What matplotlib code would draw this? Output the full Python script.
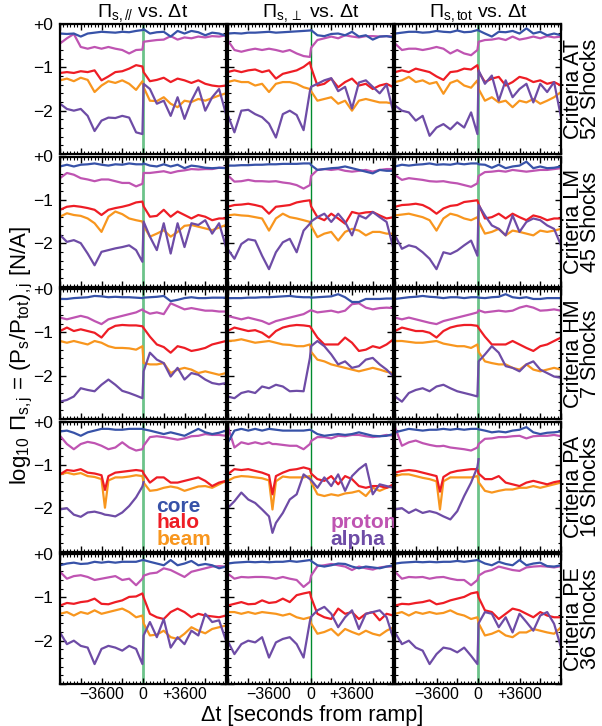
import numpy as np
import matplotlib.pyplot as plt
from matplotlib.ticker import MultipleLocator, FuncFormatter

plt.rcParams['font.family'] = ['Liberation Sans', 'DejaVu Sans']
plt.rcParams['mathtext.fontset'] = 'custom'
plt.rcParams['mathtext.rm'] = 'Liberation Sans'
plt.rcParams['mathtext.it'] = 'Liberation Sans'
plt.rcParams['mathtext.default'] = 'regular'

nan = np.nan

# seconds from ramp
t = [-7200, -6600, -6000, -5400, -4800, -4200, -3600, -3000, -2400, -1800, -1200, -600, -50,
     50, 600, 1200, 1800, 2400, 3000, 3600, 4200, 4800, 5400, 6000, 6600, 7200]
t_pa = [-7200, -6600, -6000, -5400, -4800, -4200, -3600, -3300, -3000, -2400, -1800, -1200, -600, -50,
        50, 600, 1200, 1800, 2400, 3000, 3600, 4200, 4800, 5400, 6000, 6600, 7200]

# each list: [parallel, perpendicular, total]
AT_core = [
    [-0.22,-0.23,-0.22,-0.29,-0.22,-0.20,-0.18,-0.19,-0.20,-0.18,-0.19,-0.16,-0.14,-0.12,-0.22,-0.19,-0.18,-0.29,-0.16,-0.22,-0.16,-0.19,-0.26,-0.20,-0.22,-0.27],
    [-0.22,-0.21,-0.22,-0.20,-0.20,-0.19,-0.18,-0.20,-0.19,-0.18,-0.17,-0.16,-0.15,-0.14,-0.26,-0.28,-0.23,-0.22,-0.26,-0.18,-0.29,-0.26,-0.36,-0.29,-0.28,-0.31],
    [-0.22,-0.20,-0.18,-0.18,-0.20,-0.19,-0.16,-0.18,-0.19,-0.15,-0.19,-0.18,-0.14,-0.15,-0.22,-0.29,-0.18,-0.19,-0.16,-0.22,-0.10,-0.22,-0.18,-0.26,-0.22,-0.26]]
AT_proton = [
    [-0.45,-0.33,-0.23,-0.53,-0.57,-0.53,-0.57,-0.53,-0.57,-0.60,-0.68,-0.60,-0.59,-0.41,-0.39,-0.37,-0.36,-0.28,-0.36,-0.31,-0.33,-0.29,-0.31,-0.28,-0.29,-0.26],
    [-0.37,-0.60,-0.64,-0.60,-0.57,-0.60,-0.57,-0.60,-0.64,-0.60,-0.68,-0.74,-0.76,-0.55,-0.37,-0.33,-0.29,-0.33,-0.26,-0.29,-0.31,-0.28,-0.28,-0.29,-0.28,-0.29],
    [-0.45,-0.60,-0.57,-0.57,-0.60,-0.57,-0.53,-0.57,-0.68,-0.60,-0.68,-0.72,-0.60,-0.41,-0.37,-0.36,-0.33,-0.37,-0.29,-0.36,-0.33,-0.29,-0.33,-0.28,-0.31,-0.29]]
AT_halo = [
    [-1.13,-1.11,-1.13,-1.09,-1.11,-1.07,-1.30,-1.21,-1.11,-1.09,-1.03,-0.95,-0.98,-1.11,-1.32,-1.29,-1.24,-1.34,-1.26,-1.30,-1.36,-1.30,-1.38,-1.42,-1.44,-1.42],
    [-1.11,-1.07,-1.11,-1.07,-1.05,-1.11,-1.07,-1.26,-1.15,-1.11,-1.07,-0.99,-0.88,-1.00,-1.42,-1.38,-1.26,-1.46,-1.34,-1.26,-1.42,-1.38,-1.50,-1.42,-1.38,-1.46],
    [-1.11,-1.07,-1.11,-1.03,-1.07,-1.11,-1.21,-1.29,-1.11,-1.09,-1.03,-1.05,-0.95,-1.10,-1.34,-1.26,-1.22,-1.42,-1.34,-1.22,-1.26,-1.34,-1.30,-1.38,-1.34,-1.42]]
AT_beam = [
    [-1.30,-1.26,-1.32,-1.24,-1.29,-1.57,-1.42,-1.32,-1.36,-1.30,-1.38,-1.52,-1.32,-1.46,-1.77,-1.78,-1.69,-1.84,-1.92,-1.77,-1.80,-1.73,-1.77,-1.71,-1.65,-1.60],
    [-1.34,-1.30,-1.34,-1.34,-1.42,-1.38,-1.57,-1.38,-1.34,-1.34,-1.38,-1.46,-1.50,-1.55,-1.77,-1.73,-1.69,-1.84,-1.77,-2.00,-1.77,-1.73,-1.77,-1.81,-1.81,-1.84],
    [-1.34,-1.30,-1.22,-1.34,-1.30,-1.38,-1.34,-1.61,-1.36,-1.30,-1.42,-1.47,-1.30,-1.50,-1.77,-1.69,-1.81,-1.77,-1.92,-1.77,-1.81,-1.73,-1.84,-1.77,-1.69,-1.57]]
AT_alpha = [
    [-1.84,-1.96,-2.00,-1.96,-2.12,-2.47,-2.23,-2.16,-2.17,-2.12,-2.16,-2.50,-2.54,-1.38,-1.50,-1.84,-1.77,-2.12,-1.69,-2.19,-1.77,-1.46,-2.00,-1.69,-1.50,-2.08],
    [-2.08,-2.50,-2.00,-1.98,-2.08,-2.15,-2.30,-2.62,-2.08,-2.00,-2.10,-2.45,-1.55,-1.45,-1.38,-1.30,-1.25,-1.55,-1.45,-1.95,-1.35,-1.30,-1.45,-1.60,-1.40,-2.05],
    [-1.88,-2.00,-2.04,-2.23,-2.12,-2.58,-2.39,-2.31,-2.43,-2.27,-2.39,-2.04,-2.54,-1.07,-1.38,-1.19,-1.77,-1.30,-1.69,-1.50,-1.38,-1.81,-1.38,-1.57,-1.34,-2.15]]

LM_core = [
    [-0.23,-0.19,-0.23,-0.19,-0.18,-0.16,-0.19,-0.21,-0.18,-0.19,-0.16,-0.18,-0.18,-0.16,-0.21,-0.23,-0.18,-0.23,-0.19,-0.27,-0.21,-0.23,-0.26,-0.27,-0.26,-0.27],
    [-0.21,-0.21,-0.20,-0.20,-0.19,-0.19,-0.18,-0.18,-0.17,-0.17,-0.17,-0.16,-0.16,-0.20,-0.31,-0.29,-0.27,-0.26,-0.23,-0.27,-0.31,-0.35,-0.39,-0.31,-0.33,-0.33],
    [-0.23,-0.19,-0.21,-0.19,-0.18,-0.16,-0.19,-0.18,-0.19,-0.16,-0.18,-0.16,-0.16,-0.18,-0.19,-0.26,-0.19,-0.27,-0.23,-0.21,-0.12,-0.27,-0.23,-0.27,-0.26,-0.23]]
LM_proton = [
    [-0.50,-0.38,-0.42,-0.50,-0.53,-0.57,-0.53,-0.53,-0.57,-0.61,-0.61,-0.69,-0.63,-0.38,-0.38,-0.36,-0.34,-0.38,-0.34,-0.32,-0.29,-0.30,-0.29,-0.29,-0.26,-0.26],
    [-0.43,-0.58,-0.57,-0.54,-0.57,-0.57,-0.58,-0.57,-0.60,-0.62,-0.66,-0.74,-0.66,-0.45,-0.31,-0.29,-0.31,-0.29,-0.33,-0.35,-0.33,-0.31,-0.35,-0.31,-0.29,-0.29],
    [-0.43,-0.54,-0.50,-0.52,-0.54,-0.57,-0.58,-0.57,-0.60,-0.62,-0.66,-0.70,-0.62,-0.45,-0.36,-0.35,-0.33,-0.35,-0.31,-0.33,-0.35,-0.33,-0.31,-0.31,-0.29,-0.27]]
LM_halo = [
    [-1.23,-1.16,-1.14,-1.16,-1.19,-1.23,-1.35,-1.23,-1.19,-1.16,-1.12,-1.06,-1.04,-1.15,-1.39,-1.37,-1.23,-1.39,-1.27,-1.35,-1.43,-1.35,-1.39,-1.47,-1.43,-1.43],
    [-1.16,-1.12,-1.11,-1.09,-1.12,-1.16,-1.32,-1.16,-1.14,-1.12,-1.06,-1.03,-1.01,-1.15,-1.40,-1.47,-1.32,-1.43,-1.55,-1.28,-1.32,-1.29,-1.28,-1.36,-1.43,-1.40],
    [-1.16,-1.12,-1.11,-1.09,-1.12,-1.20,-1.32,-1.20,-1.14,-1.12,-1.05,-1.03,-1.01,-1.10,-1.43,-1.40,-1.32,-1.43,-1.32,-1.40,-1.47,-1.36,-1.40,-1.47,-1.43,-1.43]]
LM_beam = [
    [-1.39,-1.31,-1.35,-1.37,-1.43,-1.54,-1.74,-1.39,-1.27,-1.33,-1.43,-1.47,-1.50,-1.60,-1.85,-1.78,-1.70,-1.85,-1.74,-1.60,-1.58,-1.62,-1.66,-1.70,-1.64,-1.58],
    [-1.36,-1.34,-1.36,-1.37,-1.40,-1.43,-1.71,-1.43,-1.32,-1.40,-1.43,-1.47,-1.51,-1.60,-1.86,-1.78,-1.74,-1.94,-1.74,-1.67,-1.71,-1.82,-1.74,-1.74,-1.78,-1.78],
    [-1.36,-1.34,-1.32,-1.36,-1.40,-1.47,-1.71,-1.43,-1.32,-1.36,-1.43,-1.47,-1.40,-1.50,-1.78,-1.74,-1.67,-1.82,-1.71,-1.74,-1.78,-1.82,-1.71,-1.74,-1.71,-1.67]]
LM_alpha = [
    [-1.81,-1.97,-1.93,-2.00,-2.24,-2.51,-2.20,-2.16,-2.12,-2.09,-2.05,-2.16,-2.43,-1.50,-1.85,-2.16,-1.54,-2.24,-1.54,-2.09,-1.54,-1.58,-1.47,-1.78,-1.54,-2.09],
    [-2.13,-2.36,-2.02,-1.91,-1.94,-2.29,-2.60,-2.21,-1.98,-1.90,-2.21,-1.71,-1.55,-1.50,-1.40,-1.32,-1.51,-1.32,-1.51,-1.82,-1.36,-1.43,-1.28,-1.40,-1.51,-2.13],
    [-1.82,-2.13,-2.05,-2.09,-2.21,-2.36,-2.60,-2.21,-2.25,-2.17,-2.05,-1.94,-2.29,-1.12,-1.36,-1.59,-1.67,-1.82,-1.36,-1.74,-1.51,-1.43,-1.47,-1.59,-1.67,-2.05]]

HM_core = [
    [-0.23,-0.23,-0.21,-0.20,-0.19,-0.16,-0.17,-0.19,-0.18,-0.19,-0.19,-0.20,-0.21,-0.20,-0.19,-0.18,-0.16,-0.28,-0.25,-0.21,-0.19,-0.21,-0.21,-0.20,-0.20,-0.20],
    [-0.21,-0.21,-0.21,-0.20,-0.20,-0.19,-0.19,-0.18,-0.17,-0.16,-0.18,-0.19,-0.19,-0.20,-0.19,-0.18,-0.17,-0.12,-0.19,-0.30,-0.30,-0.23,-0.23,-0.23,-0.22,-0.22],
    [-0.23,-0.21,-0.19,-0.18,-0.16,-0.18,-0.19,-0.21,-0.19,-0.19,-0.21,-0.19,-0.19,-0.20,-0.21,-0.19,-0.18,-0.12,-0.19,-0.21,-0.19,-0.23,-0.23,-0.21,-0.21,-0.21]]
HM_proton = [
    [-0.66,-0.70,-0.66,-0.62,-0.66,-0.74,-0.81,-0.70,-0.66,-0.62,-0.58,-0.54,-0.47,-0.50,-0.57,-0.54,-0.58,-0.33,-0.40,-0.47,-0.44,-0.47,-0.50,-0.50,-0.52,-0.52],
    [-0.62,-0.66,-0.70,-0.66,-0.70,-0.74,-0.81,-0.74,-0.70,-0.66,-0.62,-0.58,-0.50,-0.49,-0.54,-0.52,-0.50,-0.54,-0.50,-0.35,-0.33,-0.43,-0.47,-0.44,-0.43,-0.44],
    [-0.66,-0.70,-0.66,-0.70,-0.74,-0.78,-0.81,-0.74,-0.70,-0.66,-0.62,-0.58,-0.54,-0.49,-0.54,-0.52,-0.50,-0.52,-0.50,-0.43,-0.39,-0.43,-0.50,-0.49,-0.47,-0.50]]
HM_halo = [
    [-0.97,-0.89,-0.97,-0.93,-0.97,-1.01,-1.12,-0.93,-0.85,-0.83,-0.84,-0.84,-0.86,-0.90,-1.10,-1.28,-1.34,-1.47,-1.32,-1.36,-1.43,-1.40,-1.36,-1.28,-1.24,-1.20],
    [-0.97,-0.89,-0.93,-0.97,-0.95,-1.01,-1.12,-0.97,-0.89,-0.85,-0.83,-0.84,-0.86,-0.90,-1.12,-1.28,-1.28,-1.28,-1.12,-1.24,-1.43,-1.40,-1.32,-1.36,-1.28,-1.16],
    [-0.97,-0.89,-0.93,-0.97,-0.97,-1.01,-1.12,-0.97,-0.89,-0.85,-0.83,-0.83,-0.85,-0.90,-1.10,-1.28,-1.28,-1.28,-1.20,-1.28,-1.36,-1.43,-1.32,-1.28,-1.20,-1.12]]
HM_beam = [
    [-1.20,-1.24,-1.20,-1.24,-1.28,-1.20,-1.24,-1.32,-1.36,-1.36,-1.37,-1.40,-1.32,-1.71,-1.74,-1.74,-1.71,-1.94,-1.86,-1.82,-1.86,-1.94,-1.90,-1.94,-1.98,-1.94],
    [-1.20,-1.19,-1.16,-1.20,-1.24,-1.22,-1.20,-1.24,-1.28,-1.29,-1.32,-1.32,-1.28,-1.45,-1.63,-1.67,-1.74,-1.78,-1.82,-1.86,-1.90,-1.86,-1.82,-1.86,-1.91,-1.94],
    [-1.20,-1.20,-1.22,-1.24,-1.24,-1.22,-1.20,-1.26,-1.29,-1.32,-1.32,-1.36,-1.28,-1.45,-1.67,-1.71,-1.74,-1.74,-1.82,-1.86,-1.74,-1.86,-1.90,-1.86,-1.82,-1.86]]
HM_alpha = [
    [-2.60,-2.56,-2.48,-2.29,-2.33,-2.36,-2.21,-2.09,-2.21,-2.35,-2.40,-2.46,-2.52,-1.90,-1.47,-1.63,-1.71,-2.02,-1.82,-2.09,-1.94,-1.98,-2.09,-2.17,-2.20,-2.17],
    [-2.48,-2.52,-2.40,-2.36,-2.40,-2.25,-2.29,-2.21,-2.25,-2.36,-2.35,-2.36,-1.59,-1.32,-1.20,-1.32,-1.51,-1.74,-1.67,-1.82,-1.78,-1.63,-1.59,-1.74,-1.86,-2.02],
    [-2.48,-2.60,-2.40,-2.33,-2.29,-2.36,-2.25,-2.21,-2.29,-2.36,-2.40,-2.44,-2.48,-1.67,-1.51,-1.32,-1.47,-1.78,-1.82,-1.90,-1.74,-1.67,-1.86,-1.94,-2.02,-2.05]]

PA_core = [
    [-0.23,-0.21,-0.26,-0.33,-0.25,-0.21,-0.17,-0.17,-0.17,-0.19,-0.19,-0.17,-0.17,-0.17,-0.18,-0.21,-0.25,-0.29,-0.25,-0.29,-0.33,-0.25,-0.17,-0.25,-0.29,-0.26,-0.21],
    [-0.50,-0.21,-0.17,-0.21,-0.17,-0.21,-0.17,-0.18,-0.19,-0.21,-0.21,-0.21,-0.21,-0.19,-0.20,-0.29,-0.33,-0.31,-0.29,-0.31,-0.29,-0.25,-0.29,-0.33,-0.34,-0.33,-0.29],
    [-0.25,-0.21,-0.17,-0.19,-0.21,-0.19,-0.19,-0.18,-0.17,-0.19,-0.17,-0.19,-0.17,-0.17,-0.18,-0.21,-0.25,-0.23,-0.25,-0.21,-0.19,-0.13,-0.25,-0.29,-0.26,-0.25,-0.23]]
PA_proton = [
    [-0.33,-0.52,-0.64,-0.52,-0.47,-0.50,-0.56,-0.60,-0.64,-0.60,-0.48,-0.60,-0.67,-0.64,-0.56,-0.36,-0.34,-0.36,-0.39,-0.42,-0.39,-0.34,-0.33,-0.29,-0.31,-0.31,-0.33],
    [-0.09,-0.60,-0.48,-0.52,-0.48,-0.52,-0.48,-0.52,-0.52,-0.54,-0.56,-0.56,-0.64,-0.52,-0.45,-0.36,-0.36,-0.39,-0.33,-0.34,-0.31,-0.31,-0.34,-0.36,-0.34,-0.31,-0.33],
    [-0.13,-0.56,-0.48,-0.44,-0.50,-0.54,-0.57,-0.57,-0.56,-0.60,-0.62,-0.64,-0.67,-0.60,-0.52,-0.40,-0.39,-0.36,-0.36,-0.34,-0.33,-0.39,-0.34,-0.33,-0.33,-0.31,-0.34]]
PA_halo = [
    [-1.22,-1.12,-1.14,-1.10,-1.18,-1.20,-1.24,-1.58,-1.26,-1.18,-1.16,-1.14,-1.12,-1.14,-1.20,-1.41,-1.29,-1.29,-1.41,-1.41,-1.37,-1.33,-1.29,-1.37,-1.49,-1.41,-1.37],
    [-1.22,-1.10,-1.12,-1.10,-1.14,-1.18,-1.24,-1.68,-1.26,-1.18,-1.12,-1.10,-1.06,-1.10,-1.20,-1.33,-1.37,-1.26,-1.45,-1.26,-1.33,-1.49,-1.53,-1.49,-1.49,-1.53,-1.45],
    [-1.18,-1.14,-1.12,-1.14,-1.18,-1.22,-1.26,-1.62,-1.28,-1.18,-1.14,-1.12,-1.10,-1.10,-1.20,-1.33,-1.33,-1.26,-1.41,-1.45,-1.49,-1.41,-1.37,-1.41,-1.45,-1.40,-1.37]]
PA_beam = [
    [-1.22,-1.18,-1.22,-1.19,-1.26,-1.28,-1.33,-1.99,-1.36,-1.29,-1.29,-1.27,-1.24,-1.26,-1.41,-1.60,-1.58,-1.53,-1.50,-1.53,-1.60,-1.55,-1.50,-1.49,-1.53,-1.45,-1.37],
    [-1.37,-1.29,-1.26,-1.27,-1.29,-1.31,-1.36,-2.03,-1.38,-1.27,-1.29,-1.29,-1.29,-1.26,-1.40,-1.68,-1.72,-1.68,-1.71,-1.66,-1.64,-1.60,-1.72,-1.53,-1.60,-1.53,-1.49],
    [-1.26,-1.22,-1.22,-1.26,-1.30,-1.33,-1.38,-2.03,-1.38,-1.29,-1.29,-1.29,-1.29,-1.26,-1.40,-1.60,-1.64,-1.60,-1.57,-1.57,-1.53,-1.53,-1.49,-1.53,-1.49,-1.45,-1.41]]
PA_alpha = [
    [-2.03,-2.00,-2.15,-2.20,-2.10,-2.08,-2.12,-2.15,-2.16,-2.19,-2.10,-1.95,-1.75,-1.50,-1.40,nan,nan,nan,nan,nan,nan,nan,nan,nan,nan,nan,nan],
    [-2.00,-1.84,-1.64,-1.80,-1.88,-2.03,-2.19,-2.57,-2.34,-2.11,-1.80,-1.68,-1.22,-1.33,-1.35,-1.53,-1.29,-1.49,-1.22,-1.60,-1.26,-1.10,-0.98,-1.68,-1.45,-1.49,-1.53],
    [-2.03,-2.00,-2.11,-2.03,-2.11,-2.07,-2.11,-2.15,-2.19,-2.26,-2.07,-1.72,-1.41,-1.05,-0.87,nan,nan,nan,nan,nan,nan,nan,nan,nan,nan,nan,nan]]

PE_core = [
    [-0.26,-0.22,-0.20,-0.23,-0.22,-0.18,-0.20,-0.18,-0.20,-0.18,-0.18,-0.18,-0.14,-0.14,-0.18,-0.22,-0.26,-0.14,-0.26,-0.22,-0.16,-0.26,-0.23,-0.26,-0.33,-0.29],
    [-0.22,-0.20,-0.19,-0.18,-0.19,-0.18,-0.19,-0.18,-0.18,-0.16,-0.18,-0.16,-0.14,-0.16,-0.26,-0.29,-0.26,-0.22,-0.23,-0.29,-0.33,-0.29,-0.31,-0.33,-0.29,-0.26],
    [-0.22,-0.20,-0.19,-0.18,-0.19,-0.18,-0.19,-0.18,-0.18,-0.16,-0.18,-0.16,-0.14,-0.15,-0.22,-0.26,-0.18,-0.23,-0.26,-0.14,-0.26,-0.22,-0.20,-0.28,-0.29,-0.26]]
PE_proton = [
    [-0.41,-0.57,-0.51,-0.49,-0.53,-0.60,-0.57,-0.54,-0.51,-0.60,-0.57,-0.72,-0.57,-0.50,-0.45,-0.43,-0.33,-0.37,-0.45,-0.53,-0.41,-0.37,-0.33,-0.29,-0.28,-0.29],
    [-0.45,-0.57,-0.53,-0.54,-0.53,-0.53,-0.54,-0.57,-0.53,-0.57,-0.60,-0.76,-0.64,-0.50,-0.28,-0.26,-0.23,-0.26,-0.29,-0.37,-0.29,-0.33,-0.36,-0.31,-0.29,-0.29],
    [-0.41,-0.57,-0.53,-0.54,-0.53,-0.57,-0.54,-0.53,-0.57,-0.60,-0.60,-0.72,-0.60,-0.50,-0.41,-0.37,-0.29,-0.33,-0.37,-0.39,-0.31,-0.29,-0.28,-0.29,-0.31,-0.28]]
PE_halo = [
    [-1.19,-1.13,-1.15,-1.11,-1.09,-1.03,-1.15,-1.16,-1.11,-1.07,-0.99,-0.98,-0.91,-1.00,-1.38,-1.46,-1.50,-1.34,-1.26,-1.34,-1.46,-1.38,-1.42,-1.44,-1.46,-1.42],
    [-1.19,-1.15,-1.11,-1.16,-1.15,-1.07,-1.13,-1.11,-1.03,-1.11,-0.95,-0.91,-0.88,-1.00,-1.38,-1.46,-1.50,-1.26,-1.38,-1.34,-1.50,-1.38,-1.34,-1.53,-1.38,-1.42],
    [-1.19,-1.15,-1.16,-1.13,-1.11,-1.07,-1.16,-1.13,-1.07,-1.03,-0.99,-0.91,-0.88,-1.00,-1.30,-1.34,-1.50,-1.38,-1.26,-1.30,-1.38,-1.46,-1.34,-1.42,-1.46,-1.46]]
PE_beam = [
    [-1.38,-1.34,-1.42,-1.34,-1.38,-1.30,-1.38,-1.34,-1.30,-1.26,-1.34,-1.46,-1.42,-1.60,-1.88,-1.86,-1.77,-1.92,-1.96,-1.84,-1.69,-1.77,-1.83,-1.73,-1.69,-1.65],
    [-1.34,-1.34,-1.38,-1.34,-1.38,-1.34,-1.36,-1.38,-1.42,-1.38,-1.46,-1.50,-1.46,-1.60,-1.84,-1.80,-1.73,-1.88,-1.73,-1.80,-1.86,-1.77,-1.84,-1.88,-1.77,-1.69],
    [-1.38,-1.34,-1.42,-1.34,-1.38,-1.34,-1.38,-1.36,-1.30,-1.38,-1.42,-1.50,-1.46,-1.60,-1.88,-1.84,-1.77,-1.88,-1.92,-1.81,-1.81,-1.73,-1.77,-1.81,-1.84,-1.69]]
PE_alpha = [
    [-1.81,-2.08,-2.00,-2.12,-2.16,-2.54,-2.19,-2.12,-2.16,-2.23,-2.12,-2.19,-2.54,-1.88,-1.57,-1.92,-1.50,-2.16,-1.92,-2.08,-1.77,-1.88,-1.38,-1.57,-1.53,-2.00],
    [-2.00,-2.31,-2.08,-2.00,-2.04,-1.92,-2.39,-2.04,-1.96,-1.92,-2.08,-2.39,-1.55,-1.45,-1.30,-1.22,-1.38,-1.69,-1.46,-1.30,-1.73,-1.38,-1.34,-1.30,-1.46,-1.96],
    [-1.81,-2.08,-2.00,-2.16,-2.23,-2.54,-2.31,-2.16,-2.19,-2.27,-2.16,-2.35,-2.54,-1.60,-1.34,-1.38,-1.69,-1.46,-1.81,-1.38,-1.57,-1.77,-1.42,-1.34,-1.61,-2.15]]

rows = [('AT', 52, t, AT_core, AT_halo, AT_beam, AT_proton, AT_alpha),
        ('LM', 45, t, LM_core, LM_halo, LM_beam, LM_proton, LM_alpha),
        ('HM', 7, t, HM_core, HM_halo, HM_beam, HM_proton, HM_alpha),
        ('PA', 16, t_pa, PA_core, PA_halo, PA_beam, PA_proton, PA_alpha),
        ('PE', 36, t, PE_core, PE_halo, PE_beam, PE_proton, PE_alpha)]

c_core = '#3752A8'
c_halo = '#EE1D25'
c_beam = '#F8961E'
c_proton = '#BF54B2'
c_alpha = '#6E4CA6'

titles = [r'$\Pi_{s,//}$ vs. Δt', r'$\Pi_{s,\perp}$ vs. Δt', r'$\Pi_{s,tot}$ vs. Δt']

W, H = 602.0, 726.0
col_x = [60, 227.5, 395]
col_w = 166
row_y = [24, 156.5, 289, 421.5, 554]
row_h = 130

def xfmt(v, pos):
    if abs(v + 3600) < 1:
        return '\u22123600'
    if abs(v) < 1:
        return '0'
    if abs(v - 3600) < 1:
        return '+3600'
    return ''

def yfmt(v, pos):
    if abs(v) < 0.01:
        return '+0'
    if abs(v + 1) < 0.01:
        return '\u22121'
    if abs(v + 2) < 0.01:
        return '\u22122'
    return ''

fig = plt.figure(figsize=(6.02, 7.26), dpi=100)

for r, (code, nshock, tt, core, halo, beam, proton, alpha) in enumerate(rows):
    for c in range(3):
        ax = fig.add_axes([col_x[c] / W, 1 - (row_y[r] + row_h) / H, col_w / W, row_h / H])
        if c == 1:
            ax.axvline(0, color='#008A2E', lw=1.0, zorder=1)
        else:
            ax.axvline(0, color='#6CC38A', lw=2.0, zorder=1)
        ax.plot(tt, proton[c], color=c_proton, lw=1.6)
        ax.plot(tt, core[c], color=c_core, lw=1.6)
        ax.plot(tt, beam[c], color=c_beam, lw=1.6)
        ax.plot(tt, halo[c], color=c_halo, lw=1.6)
        ax.plot(tt, alpha[c], color=c_alpha, lw=1.6)
        ax.set_xlim(-7200, 7200)
        ax.set_ylim(-3, 0)
        ax.xaxis.set_major_locator(MultipleLocator(1800))
        ax.xaxis.set_minor_locator(MultipleLocator(300))
        ax.yaxis.set_major_locator(MultipleLocator(1))
        ax.yaxis.set_minor_locator(MultipleLocator(0.2))
        ax.tick_params(which='both', direction='in', top=True, right=True)
        ax.tick_params(which='major', length=4.5, width=1)
        ax.tick_params(which='minor', length=2.5, width=0.8)
        ax.tick_params(axis='x', labelsize=11.5, pad=2)
        ax.tick_params(axis='y', labelsize=12.5, pad=5)
        for s in ax.spines.values():
            s.set_linewidth(1.6)
        if r == 4:
            ax.xaxis.set_major_formatter(FuncFormatter(xfmt))
        else:
            ax.set_xticklabels([])
        if c == 0:
            ax.yaxis.set_major_formatter(FuncFormatter(yfmt))
        else:
            ax.set_yticklabels([])
        if r == 0:
            ax.set_title(titles[c], fontsize=14, pad=2)
        if c == 2:
            ax.text(1.125, 0.5, 'Criteria %s\n%d Shocks' % (code, nshock), transform=ax.transAxes,
                    rotation=90, ha='center', va='center', fontsize=15.5, linespacing=0.75)
        if r == 3 and c == 0:
            for txt, col, yy in [('core', c_core, 0.35), ('halo', c_halo, 0.22), ('beam', c_beam, 0.09)]:
                ax.text(0.58, yy, txt, color=col, transform=ax.transAxes, fontsize=15,
                        fontweight='bold', ha='left', va='center')
        if r == 3 and c == 1:
            for txt, col, yy in [('proton', c_proton, 0.22), ('alpha', c_alpha, 0.09)]:
                ax.text(0.62, yy, txt, color=col, transform=ax.transAxes, fontsize=15,
                        fontweight='bold', ha='left', va='center')

fig.text(22 / W, 1 - 355 / H, r'log$_{10}$ $\Pi_{s,j}$ = (P$_s$/P$_{tot}$)$_{,j}$ [N/A]',
         rotation=90, ha='center', va='center', fontsize=16)
fig.text(312 / W, 1 - 715 / H, 'Δt [seconds from ramp]', ha='center', va='center', fontsize=15.5)

fig.savefig('out.png', dpi=100)
